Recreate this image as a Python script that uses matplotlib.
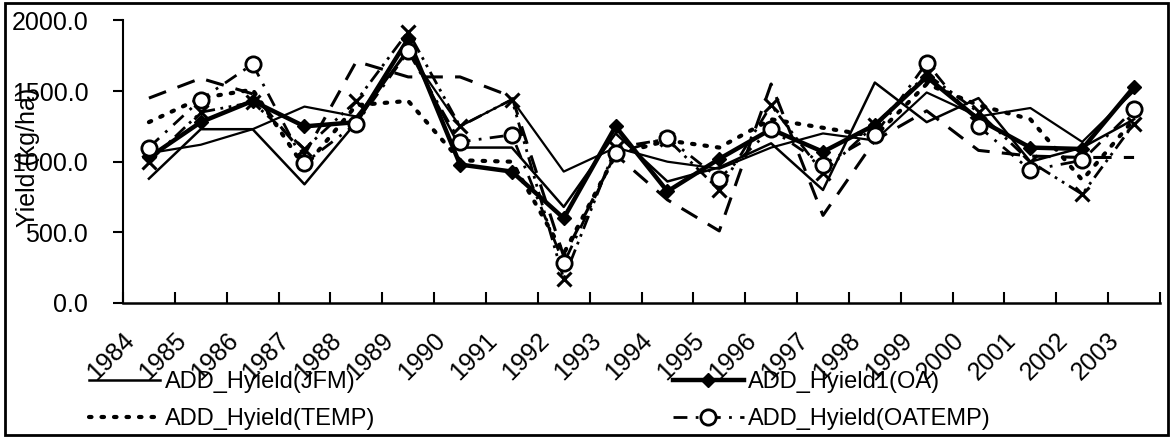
import matplotlib

matplotlib.use("Agg")
import matplotlib.pyplot as plt
import matplotlib.transforms as mtransforms
from matplotlib.patches import Rectangle
import numpy as np

plt.rcParams["font.family"] = ["Liberation Sans", "DejaVu Sans"]

# 연도 / 시리즈 값 (그림에서 읽은 값, kg/ha)
years = [str(y) for y in range(1984, 2004)]
jfm = [880, 1230, 1230, 840, 1280, 1800, 1100, 1100, 680, 1200, 860, 960, 1130, 800, 1560, 1280, 1450, 1000, 1100, 1300]
oa = [1030, 1280, 1430, 1250, 1280, 1870, 980, 930, 600, 1250, 790, 1020, 1230, 1070, 1260, 1600, 1300, 1100, 1090, 1530]
temp = [1280, 1450, 1510, 960, 1400, 1430, 1010, 1000, 350, 1050, 1150, 1100, 1300, 1240, 1180, 1550, 1400, 1300, 870, 1300]
oatemp = [1100, 1440, 1690, 990, 1270, 1780, 1140, 1190, 280, 1060, 1170, 880, 1230, 980, 1190, 1700, 1250, 940, 1010, 1370]
# legend entries for these three are cut off in the original
dashed = [1450, 1590, 1480, 1050, 1710, 1600, 1600, 1460, 330, 1050, 730, 510, 1550, 620, 1150, 1360, 1080, 1040, 1030, 1030]
xser = [1000, 1350, 1420, 1090, 1430, 1920, 1250, 1440, 170, 1100, 1160, 800, 1400, 920, 1260, 1620, 1350, 1000, 770, 1270]
thin2 = [1060, 1120, 1230, 1390, 1320, 1780, 1250, 1440, 930, 1100, 1000, 950, 1100, 1200, 1150, 1490, 1320, 1380, 1140, 1500]

W, H = 1174, 441
fig = plt.figure(figsize=(W / 100, H / 100), dpi=100)
fig.patch.set_facecolor("white")
ax = fig.add_axes([123 / W, 1 - 303 / H, 1037 / W, 282.6 / H])

x = np.arange(len(years))

ax.plot(x, dashed, color="black", lw=2.2, ls=(0, (6, 4)), zorder=2)
ax.plot(x, thin2, color="black", lw=1.6, zorder=2)
ax.plot(x, xser, color="black", lw=2.0, ls=(0, (5, 2, 1, 2, 1, 2)),
        marker="x", ms=10, mew=2.2, zorder=3)
l_temp, = ax.plot(x, temp, color="black", lw=3.0, ls=(0, (0.6, 2.4)),
                  dash_capstyle="round", label="ADD_Hyield(TEMP)", zorder=3)
l_jfm, = ax.plot(x, jfm, color="black", lw=1.8, label="ADD_Hyield(JFM)", zorder=3)
l_oa, = ax.plot(x, oa, color="black", lw=3.2, marker="D", ms=7,
                label="ADD_Hyield1(OA)", zorder=4)
l_oat, = ax.plot(x, oatemp, color="black", lw=2.0, ls=(0, (5, 3, 1, 3)),
                 marker="o", ms=11, mfc="white", mec="black", mew=2.0,
                 label="ADD_Hyield(OATEMP)", zorder=5)

ax.set_xlim(-0.5, len(years) - 0.5)
ax.set_ylim(0, 2000)
ax.set_yticks([0, 500, 1000, 1500, 2000])
ax.set_yticklabels([f"{v:.1f}" for v in [0, 500, 1000, 1500, 2000]])
ax.tick_params(axis="y", direction="out", length=7, width=1.5, labelsize=18, pad=18)

ax.set_xticks(x, labels=years, rotation=45, ha="right", fontsize=18)
ax.set_xticks(np.arange(len(years) + 1) - 0.5, minor=True)
ax.tick_params(axis="x", which="major", length=0, pad=18)
ax.tick_params(axis="x", which="minor", direction="in", length=8, width=1.5)

ax.spines["top"].set_visible(False)
ax.spines["right"].set_visible(False)
ax.spines["left"].set_linewidth(1.5)
ax.spines["bottom"].set_linewidth(1.8)

ax.set_ylabel("Yield (kg/ha)", fontsize=18)
ax.yaxis.set_label_coords(-0.080, 0.517)

fig.legend(
    [l_jfm, l_temp, l_oa, l_oat],
    [l.get_label() for l in [l_jfm, l_temp, l_oa, l_oat]],
    ncol=2,
    loc="upper left",
    bbox_to_anchor=(68 / W, 1 - 350 / H),
    frameon=False,
    fontsize=17,
    handlelength=3.0,
    handletextpad=0.2,
    columnspacing=12.6,
    labelspacing=0.62,
    numpoints=1,
)

# 바깥 차트 테두리
fig.add_artist(Rectangle((5 / W, 1 - 435 / H), 1163 / W, 432 / H,
                         transform=fig.transFigure, fill=False,
                         edgecolor="black", lw=2))

# 눈금 라벨을 왼쪽으로 조금 이동 (원본처럼)
fig.canvas.draw()
offset = mtransforms.ScaledTranslation(-0.10, 0, fig.dpi_scale_trans)
for lab in ax.get_xticklabels():
    lab.set_transform(lab.get_transform() + offset)

fig.savefig("out.png", dpi=100, facecolor="white")
